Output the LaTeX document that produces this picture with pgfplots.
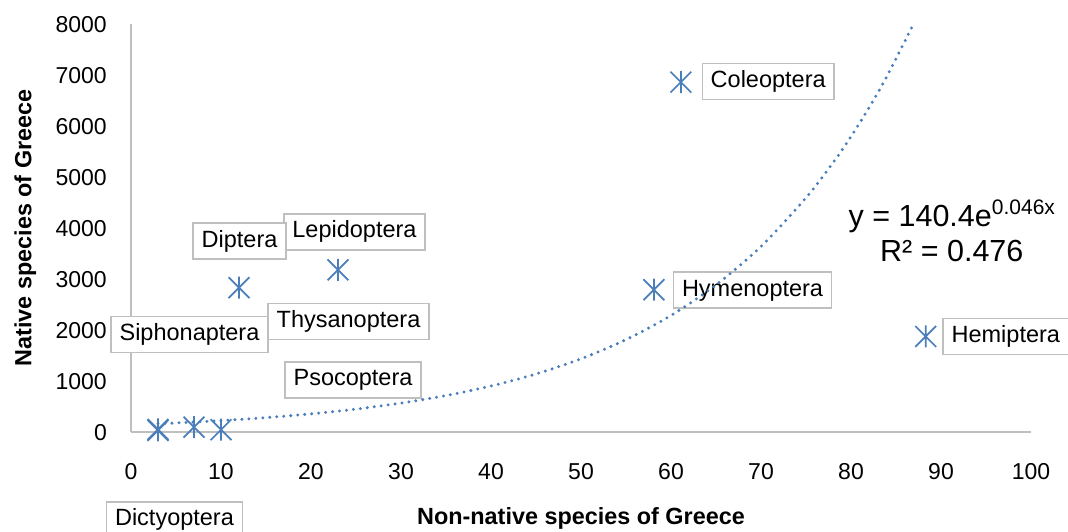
\documentclass[border=0pt]{standalone}
\usepackage{pgfplots}
\pgfplotsset{compat=1.18}
\usepackage{fontspec}
\setmainfont{Liberation Sans}
\definecolor{xlblue}{RGB}{74,126,187}
\definecolor{axgray}{RGB}{191,191,191}
\definecolor{boxgray}{RGB}{191,191,191}
\pgfdeclareplotmark{xstar}{%
  \pgfpathmoveto{\pgfqpoint{0pt}{\pgfplotmarksize}}%
  \pgfpathlineto{\pgfqpoint{0pt}{-\pgfplotmarksize}}%
  \pgfpathmoveto{\pgfqpoint{-0.95\pgfplotmarksize}{0.95\pgfplotmarksize}}%
  \pgfpathlineto{\pgfqpoint{0.95\pgfplotmarksize}{-0.95\pgfplotmarksize}}%
  \pgfpathmoveto{\pgfqpoint{-0.95\pgfplotmarksize}{-0.95\pgfplotmarksize}}%
  \pgfpathlineto{\pgfqpoint{0.95\pgfplotmarksize}{0.95\pgfplotmarksize}}%
  \pgfusepathqstroke}
\newcommand{\lf}{\fontsize{23.5}{27}\selectfont}
\tikzset{dlab/.style={draw=boxgray, line width=1.4pt, fill=white, font=\lf,
  text height=17pt, text depth=5pt, inner xsep=8.5pt, inner ysep=7pt, anchor=center}}
\begin{document}
\begin{tikzpicture}
\useasboundingbox (0,0) rectangle (1068pt,532pt);
\begin{axis}[
  at={(131pt,100pt)}, anchor=south west,
  scale only axis, width=900pt, height=408pt,
  xmin=0, xmax=100, ymin=0, ymax=8000,
  axis x line*=bottom, axis y line*=left,
  axis line style={draw=axgray, line width=1.5pt},
  major tick length=0pt,
  xtick={0,10,...,100}, ytick={0,1000,...,8000},
  /pgf/number format/assume math mode=true,
  /pgf/number format/1000 sep={},
  ticklabel style={font=\fontsize{23}{27}\selectfont, inner sep=0pt},
  xticklabel style={anchor=base, yshift=-48pt},
  yticklabel style={anchor=base east, xshift=-24pt, yshift=-8.3pt},
  xlabel={\bfseries Non-native species of Greece},
  ylabel={\bfseries Native species of Greece},
  label style={font=\fontsize{23.4}{27}\selectfont},
  xlabel style={at={(axis description cs:0.5,0)}, anchor=base, yshift=-92.4pt},
  ylabel style={at={(axis description cs:0,0.5)}, anchor=base, yshift=99.6pt},
  clip=false,
]
\node[dlab] at (axis cs:70.8,6869) {Coleoptera};
\node[dlab] at (axis cs:69.06,2784) {Hymenoptera};
\node[dlab] at (axis cs:97.2,1873) {Hemiptera};
\node[dlab] at (axis cs:24.83,3922) {Lepidoptera};
\node[dlab] at (axis cs:12.06,3745) {Diptera};
\node[dlab] at (axis cs:6.5,1912) {Siphonaptera};
\node[dlab] at (axis cs:24.17,2167) {Thysanoptera};
\node[dlab] at (axis cs:24.67,1020) {Psocoptera};
\node[dlab] at (axis cs:4.83,-1725) {Dictyoptera};
% trendline y = 140.4 e^{0.046x} (values tabulated)
\addplot[xlblue, line width=3.3pt, line cap=round, dash pattern=on 0pt off 7pt, smooth, mark=none] coordinates {
  (3,161.4) (6,185.6) (10,223.5) (15,282.0) (20,355.8) (25,449.0) (30,566.5)
  (35,714.8) (40,901.9) (45,1138.0) (50,1435.8) (55,1811.6) (60,2286.0)
  (65,2884.2) (70,3639.1) (75,4591.6) (78,5279) (80,5793.5) (82,6358) (84,6978) (86.94,8000)
};
% data points
\addplot[only marks, mark=xstar, mark size=11pt, mark options={draw=xlblue, line width=1.7pt}] coordinates {
  (61.1,6860) (58.1,2790) (88.3,1873) (23.0,3180) (12.0,2830)
  (3,30) (3,50) (7,95) (10,45)
};
\node[font=\fontsize{30.5}{34.5}\selectfont, align=center, anchor=center] at (axis cs:91.2,3950)
  {y = 140.4e\raisebox{0.42em}{\fontsize{21}{21}\selectfont 0.046x}\\R² = 0.476};
\end{axis}
\end{tikzpicture}
\end{document}
